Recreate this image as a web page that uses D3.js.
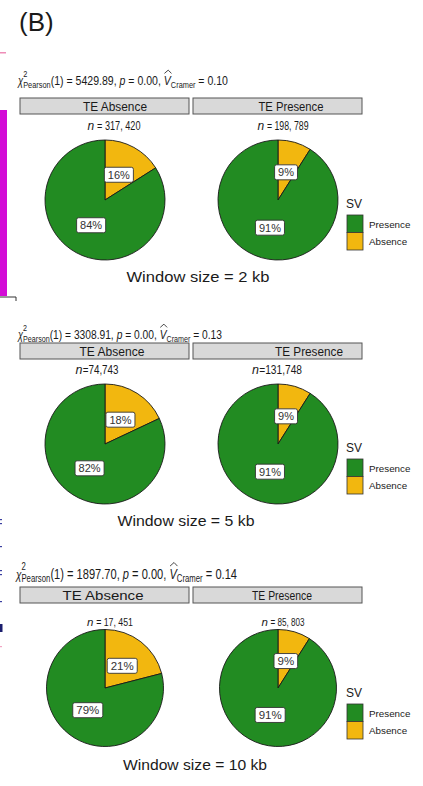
<!DOCTYPE html>
<html>
<head>
<meta charset="utf-8">
<script src="https://cdn.jsdelivr.net/npm/d3@7"></script>
<style>
  body { margin: 0; background: #fff; }
  svg { display: block; }
  text { white-space: pre; }
</style>
</head>
<body>
<svg id="chart" width="423" height="786"></svg>
<script>
// ---- data -------------------------------------------------------------
const windowSizes = ["2 kb", "5 kb", "10 kb"];
const teGroups = ["TE Absence", "TE Presence"];
const chiSquared = ["5429.89", "3308.91", "1897.70"];
const pValues = ["0.00", "0.00", "0.00"];
const cramerV = ["0.10", "0.13", "0.14"];
const nLabels = [
  ["317, 420", "198, 789"],
  ["74,743", "131,748"],
  ["17, 451", "85, 803"]
];
const nCompact = [false, true, false];
// SV share (%) per window size and TE group
const svAbsencePct = [[16, 9], [18, 9], [21, 9]];
const svPresencePct = [[84, 91], [82, 91], [79, 91]];
const svLevels = ["Presence", "Absence"];

// ---- layout & style ---------------------------------------------------
const svg = d3.select("#chart");
const FONT = "'Liberation Sans', Arial, sans-serif";
const NARROW = "'Liberation Sans Narrow', 'Liberation Sans', Arial, sans-serif";
const colour = d3.scaleOrdinal().domain(svLevels).range(["#228B22", "#F2B70F"]);

const panels = [
  { subX: 18, subY: 85, subW: 210, subSize: 13.5,
    stripY: 98, stripText: [{ cx: 115, w: 64 }, { cx: 291, w: 65 }], stripSize: 12,
    nY: 130, n: [{ cx: 114, w: 53 }, { cx: 283, w: 51 }], nSize: 12,
    pieY: 200, r: 60, legY: 208, win: { cx: 198, w: 143, y: 282 }, lab: 11 },
  { subX: 18, subY: 339, subW: 204, subSize: 13.5,
    stripY: 343, stripText: [{ cx: 112, w: 65 }, { cx: 309, w: 68 }], stripSize: 12,
    nY: 374, n: [{ cx: 97, w: 43 }, { cx: 277, w: 50 }], nSize: 12.5,
    pieY: 444, r: 60, legY: 452, win: { cx: 186, w: 137, y: 526 }, lab: 11 },
  { subX: 16, subY: 579, subW: 221, subSize: 15,
    stripY: 587, stripText: [{ cx: 103, w: 81 }, { cx: 282, w: 60 }], stripSize: 13,
    nY: 626, n: [{ cx: 110, w: 46 }, { cx: 283, w: 43 }], nSize: 11.5,
    pieY: 688, r: 58.5, legY: 697, win: { cx: 195, w: 144, y: 770 }, lab: 11.5 }
];
const stripX = [{ x0: 20, x1: 189 }, { x0: 193, x1: 362 }];
const pieCx = [105, 278];

// ---- statistical subtitle ---------------------------------------------
function subtitle(g, p, i) {
  const s = p.subSize;
  const grp = g.append("g").attr("font-family", NARROW).attr("fill", "#1a1a1a");
  let x = p.subX;
  const y = p.subY;
  function piece(t, size, dy, italic) {
    return grp.append("text").attr("x", x).attr("y", y + dy)
      .attr("font-size", size).attr("font-style", italic ? "italic" : "normal")
      .text(t).node().getComputedTextLength();
  }
  x += piece("χ", s * 0.9, 0, true);
  const sup = piece("2", s * 0.7, -s * 0.62, false);
  const sub = piece("Pearson", s * 0.7, s * 0.2, false);
  x += Math.max(sup, sub);
  x += piece(`(1) = ${chiSquared[i]}, `, s, 0, false);
  x += piece("p", s, 0, true);
  x += piece(` = ${pValues[i]}, `, s, 0, false);
  const vx = x;
  const vw = piece("V", s, 0, true);
  x += vw;
  // hat over V
  grp.append("path")
    .attr("d", `M${vx + 0.8},${y - s * 0.86} L${vx + vw * 0.62},${y - s * 1.1} L${vx + vw + 0.8},${y - s * 0.86}`)
    .attr("fill", "none").attr("stroke", "#1a1a1a").attr("stroke-width", 0.9);
  x += piece("Cramer", s * 0.7, s * 0.2, false);
  x += piece(` = ${cramerV[i]}`, s, 0, false);
  const k = p.subW / (x - p.subX);
  grp.attr("transform", `translate(${p.subX},0) scale(${k},1) translate(${-p.subX},0)`);
}

// ---- pies ---------------------------------------------------------------
const pie = d3.pie().sort(null).value(d => d.value);

panels.forEach((p, i) => {
  const g = svg.append("g");
  subtitle(g, p, i);

  teGroups.forEach((grpName, j) => {
    // facet strip
    g.append("rect")
      .attr("x", stripX[j].x0).attr("y", p.stripY)
      .attr("width", stripX[j].x1 - stripX[j].x0).attr("height", 16)
      .attr("fill", "#D9D9D9").attr("stroke", "#555").attr("stroke-width", 1);
    g.append("text")
      .attr("x", p.stripText[j].cx - p.stripText[j].w / 2).attr("y", p.stripY + 12.5)
      .attr("font-family", FONT).attr("font-size", p.stripSize).attr("fill", "#1a1a1a")
      .attr("textLength", p.stripText[j].w).attr("lengthAdjust", "spacingAndGlyphs")
      .text(grpName);

    // sample size: italic n, then the count
    const nx = p.n[j].cx - p.n[j].w / 2;
    const nItalic = g.append("text")
      .attr("x", nx).attr("y", p.nY)
      .attr("font-family", NARROW).attr("font-size", p.nSize).attr("font-style", "italic")
      .attr("fill", "#1a1a1a").text("n");
    const nw = nItalic.node().getComputedTextLength();
    g.append("text")
      .attr("x", nx + nw + 0.3).attr("y", p.nY)
      .attr("font-family", NARROW).attr("font-size", p.nSize).attr("fill", "#1a1a1a")
      .attr("textLength", p.n[j].w - nw - 0.3).attr("lengthAdjust", "spacingAndGlyphs")
      .text((nCompact[i] ? "=" : " = ") + nLabels[i][j]);

    // pie
    const data = [
      { level: "Absence", value: svAbsencePct[i][j] },
      { level: "Presence", value: svPresencePct[i][j] }
    ];
    const arcs = pie(data);
    const arc = d3.arc().innerRadius(0).outerRadius(p.r);
    const labelArc = d3.arc().innerRadius(p.r * 0.48).outerRadius(p.r * 0.48);
    const pg = g.append("g").attr("transform", `translate(${pieCx[j]},${p.pieY})`);
    pg.selectAll("path.slice").data(arcs).join("path")
      .attr("class", "slice")
      .attr("d", arc)
      .attr("fill", d => colour(d.data.level))
      .attr("stroke", "#1a1a1a").attr("stroke-width", 0.9);

    const lab = pg.selectAll("g.lab").data(arcs).join("g")
      .attr("class", "lab")
      .attr("transform", d => `translate(${labelArc.centroid(d)})`);
    lab.each(function (d) {
      const lg = d3.select(this);
      const t = lg.append("text")
        .attr("text-anchor", "middle").attr("dy", "0.36em")
        .attr("font-family", FONT).attr("font-size", p.lab).attr("fill", "#333")
        .text(`${d.data.value}%`);
      const tw = t.node().getComputedTextLength();
      lg.insert("rect", "text")
        .attr("x", -tw / 2 - 3.5).attr("y", -7.5)
        .attr("width", tw + 7).attr("height", 15).attr("rx", 2)
        .attr("fill", "#fff").attr("stroke", "#333").attr("stroke-width", 0.9);
    });
  });

  // legend
  const lg = g.append("g").attr("transform", `translate(346,${p.legY})`);
  lg.append("text").attr("x", 0).attr("y", 0)
    .attr("font-family", FONT).attr("font-size", 12).attr("fill", "#1a1a1a").text("SV");
  svLevels.forEach((lv, k) => {
    lg.append("rect").attr("x", 1).attr("y", 7 + k * 17.5)
      .attr("width", 16).attr("height", 17.5)
      .attr("fill", colour(lv)).attr("stroke", "#333").attr("stroke-width", 0.8);
    lg.append("text").attr("x", 23).attr("y", 19.5 + k * 17.5)
      .attr("font-family", FONT).attr("font-size", 9.8).attr("fill", "#1a1a1a").text(lv);
  });

  // window size caption
  g.append("text")
    .attr("x", p.win.cx - p.win.w / 2).attr("y", p.win.y)
    .attr("font-family", FONT).attr("font-size", 14.5).attr("fill", "#1a1a1a")
    .attr("textLength", p.win.w).attr("lengthAdjust", "spacingAndGlyphs")
    .text(`Window size = ${windowSizes[i]}`);
});

// ---- panel tag and neighbouring-panel edge --------------------------------
svg.append("text").attr("x", 19).attr("y", 31)
  .attr("font-family", FONT).attr("font-size", 26).attr("fill", "#1a1a1a").text("(B)");

const edge = svg.append("g");
edge.append("rect").attr("x", 0).attr("y", 52).attr("width", 6).attr("height", 1.5).attr("fill", "#EE8DB8");
edge.append("rect").attr("x", 0).attr("y", 110).attr("width", 7).attr("height", 186).attr("fill", "#D30BD6");
edge.append("path").attr("d", "M0,297 H16 V301").attr("fill", "none").attr("stroke", "#333").attr("stroke-width", 1);
[[519, 1.2], [523, 1.2], [546, 1.2], [570, 1.2], [574, 1.2], [601, 1.2]].forEach(([y, h]) => {
  edge.append("rect").attr("x", 0).attr("y", y).attr("width", 2).attr("height", h).attr("fill", "#3A3FA0");
});
edge.append("rect").attr("x", 0).attr("y", 624).attr("width", 2.5).attr("height", 8).attr("fill", "#1B1E6E");
edge.append("rect").attr("x", 0).attr("y", 646).attr("width", 2).attr("height", 1.2).attr("fill", "#F2A5C4");
</script>
</body>
</html>
